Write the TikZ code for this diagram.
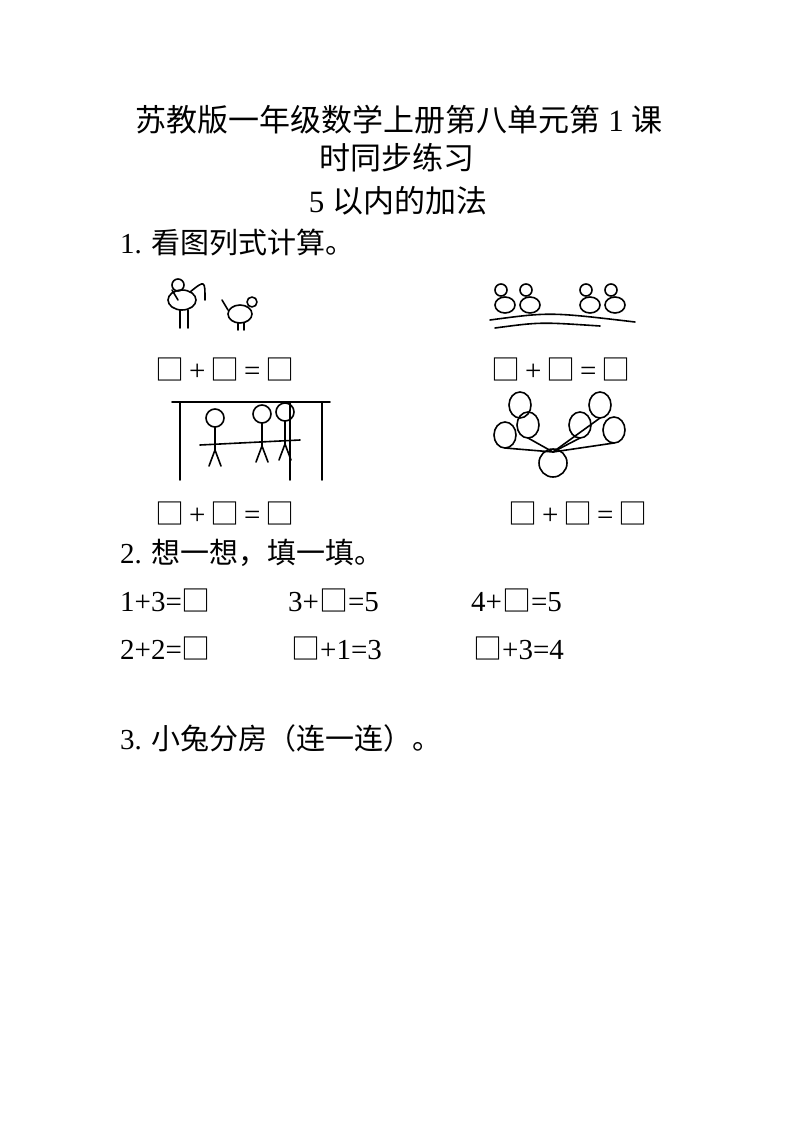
\documentclass[tikz,border=0pt]{standalone}
\usepackage{fontspec}
\setmainfont{Liberation Serif}
\newfontfamily\cjk{Noto Sans CJK SC}
\begin{document}
\begin{tikzpicture}[x=1pt,y=-1pt,
  txt/.style={anchor=west,inner sep=0pt,font=\fontsize{29}{32}\selectfont},
  ttl/.style={inner sep=0pt,font=\fontsize{31}{34}\selectfont},
  art/.style={line width=1.6pt,line cap=round,line join=round}]
\useasboundingbox (0,0) rectangle (794,1123);
\newcommand\bx{{\cjk □}}
\node[ttl] (t1) at (399,120) {{\cjk 苏教版一年级数学上册第八单元第} 1 {\cjk 课}};
\node[ttl] (t2) at (397,158) {\cjk 时同步练习};
\node[ttl] (t3) at (398,201) {5 {\cjk 以内的加法}};
\node[txt] (q1) at (120,242) {1. {\cjk 看图列式计算。}};
% chickens
\begin{scope}[art]
\draw (182,300) ellipse (14 and 10); \draw (178,285) circle (6);
\draw (172,290)--(178,300) (190,292) .. controls (205,280) .. (205,300);
\draw (180,310)--(180,328) (188,310)--(188,328);
\draw (240,314) ellipse (12 and 9); \draw (252,302) circle (5);
\draw (238,323)--(238,330) (244,323)--(244,330) (228,310)--(222,300);
% ducks
\foreach \x in {505,530,590,615}{\draw (\x,305) ellipse (10 and 8); \draw (\x-4,290) circle (6);}
\draw (490,320) .. controls (550,312) .. (635,322);
\draw (495,328) .. controls (540,322) .. (600,326);
% swing
\draw (172,402)--(330,402) (180,402)--(180,480) (322,402)--(322,480) (290,402)--(290,480);
\draw (200,445)--(300,440);
\foreach \x/\y in {215/418,262/414,285/412}{\draw (\x,\y) circle (9); \draw (\x,\y+9)--(\x,\y+32) (\x,\y+32)--(\x-6,\y+48) (\x,\y+32)--(\x+6,\y+48);}
% balloons
\foreach \x/\y in {505/435,528/425,520/405,600/405,614/430,580/425}{\draw (\x,\y) ellipse (11 and 13);}
\draw (553,463) circle (14);
\foreach \x/\y in {505/448,528/438,580/438,600/418,614/443}{\draw (\x,\y)--(553,452);}
\end{scope}
\node[txt] (e1) at (155,369) {\bx\,+\,\bx\,=\,\bx};
\node[txt] (e2) at (491,369) {\bx\,+\,\bx\,=\,\bx};
\node[txt] (e3) at (155,513) {\bx\,+\,\bx\,=\,\bx};
\node[txt] (e4) at (508,513) {\bx\,+\,\bx\,=\,\bx};
\node[txt] (q2) at (120,553) {2. {\cjk 想一想，填一填。}};
\node[txt] (f1) at (120,600) {1+3=\bx};
\node[txt] (f2) at (288,600) {3+\bx=5};
\node[txt] (f3) at (471,600) {4+\bx=5};
\node[txt] (f4) at (120,648) {2+2=\bx};
\node[txt] (f5) at (291,648) {\bx+1=3};
\node[txt] (f6) at (473,648) {\bx+3=4};
\node[txt] (q3) at (120,738) {3. {\cjk 小兔分房（连一连）。}};
\end{tikzpicture}
\end{document}
